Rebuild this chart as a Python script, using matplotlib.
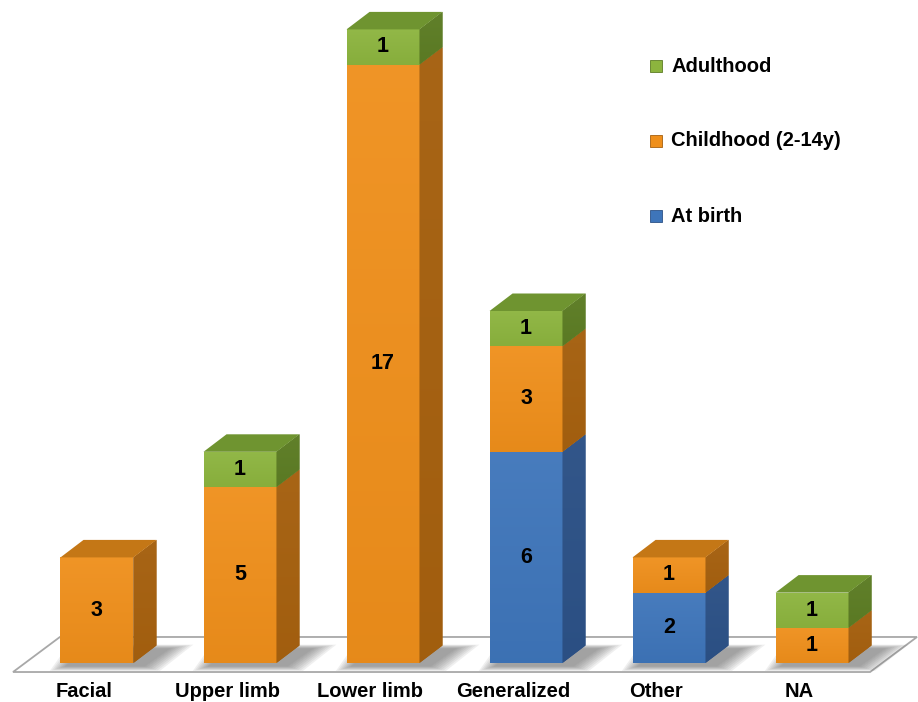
#!/usr/bin/env python3
# -*- coding: utf-8 -*-
"""
Onset by region - 3D-style stacked bar chart
"""

import matplotlib
matplotlib.use('Agg')
import matplotlib.pyplot as plt
import matplotlib.colors as mcolors
from matplotlib.patches import Polygon
import numpy as np

plt.rcParams['font.family'] = ['Liberation Sans', 'DejaVu Sans']

# data
categories = ['Facial', 'Upper limb', 'Lower limb', 'Generalized', 'Other', 'NA']
at_birth = [0, 0, 0, 6, 2, 0]
childhood = [3, 5, 17, 3, 1, 1]
adulthood = [0, 1, 1, 1, 0, 1]

series_names = ['At birth', 'Childhood (2-14y)', 'Adulthood']
series_values = [at_birth, childhood, adulthood]

# front / side / top colors for each series
face_colors = {
    'At birth': ('#3E75BA', '#2C5186', '#35629E'),
    'Childhood (2-14y)': ('#EF8F1B', '#A5600F', '#C47716'),
    'Adulthood': ('#8CB43E', '#5C7C24', '#6F9430'),
}

BAR_W = 0.51
DX, DY = 0.161, 0.497   # depth of the boxes (data units)


def shade(c, f):
    """lighten (f>0) or darken (f<0) a colour"""
    rgb = np.array(mcolors.to_rgb(c))
    if f > 0:
        return rgb + (1 - rgb) * f
    return rgb * (1 + f)


def gradient_fill(ax, patch, c, extent, z, amount):
    # vertical gradient, lighter at the top
    top = shade(c, amount)
    bot = shade(c, -amount * 0.7)
    t = np.linspace(0, 1, 64)[:, None]
    img = (top[None, :] * (1 - t) + bot[None, :] * t)[:, None, :]
    im = ax.imshow(img, extent=extent, aspect='auto', origin='upper',
                   interpolation='bilinear', zorder=z)
    im.set_clip_path(patch)


def draw_box(ax, x, bottom, h, colors, top, z):
    front, side, topc = colors
    bars = ax.bar(x, h, bottom=bottom, width=BAR_W, color=front, linewidth=0, zorder=z)
    xr = x + BAR_W / 2
    xl = x - BAR_W / 2
    gradient_fill(ax, bars[0], front, (xl, xr, bottom, bottom + h), z + 0.1, 0.05)
    side_p = Polygon([(xr, bottom), (xr + DX, bottom + DY),
                      (xr + DX, bottom + h + DY), (xr, bottom + h)],
                     closed=True, facecolor=side, edgecolor='none', zorder=z)
    ax.add_patch(side_p)
    gradient_fill(ax, side_p, side, (xr, xr + DX, bottom, bottom + h + DY), z + 0.1, 0.03)
    if top:
        yt = bottom + h
        ax.add_patch(Polygon([(xl, yt), (xr, yt), (xr + DX, yt + DY), (xl + DX, yt + DY)],
                             closed=True, facecolor=topc, edgecolor='none', zorder=z + 0.2))


fig = plt.figure(figsize=(9.18, 7.02), dpi=100, facecolor='white')
ax = fig.add_axes([0, 0, 1, 1])
ax.axis('off')

n = len(categories)
x = np.arange(n)

# floor
floor = Polygon([(-0.587, -0.256), (n - 1 + 0.406, -0.256),
                 (n - 1 + 0.734, 0.739), (-0.259, 0.739)],
                closed=True, facecolor='white', edgecolor='#A8A8A8', linewidth=1.3, zorder=1)
ax.add_patch(floor)

# soft shadows on the floor
for i in range(n):
    xl = x[i] - BAR_W / 2
    xr = x[i] + BAR_W / 2
    for k in range(8):
        grow = 0.015 * k
        ax.add_patch(Polygon([(xl + 0.03 - grow, -0.10 - grow * 1.2),
                              (xr + 0.08 + grow, -0.10 - grow * 1.2),
                              (xr + DX + 0.10 + grow * 1.5, DY - 0.08 + grow),
                              (xl + DX - grow, DY - 0.08 + grow)],
                             closed=True, facecolor='#505050', alpha=0.085,
                             edgecolor='none', zorder=2))

# bars
for i in range(n):
    top_idx = max(j for j, s in enumerate(series_values) if s[i] > 0)
    bottom = 0
    for j, (name, vals) in enumerate(zip(series_names, series_values)):
        v = vals[i]
        if v <= 0:
            continue
        draw_box(ax, x[i], bottom, v, face_colors[name], j == top_idx, 3 + j)
        ax.text(x[i], bottom + v / 2, str(v), ha='center', va='center',
                fontsize=15.5, fontweight='bold', color='black', zorder=10)
        bottom += v

# category labels
for i, cat in enumerate(categories):
    ax.text(x[i] - 0.09, -0.80, cat, ha='center', va='center',
            fontsize=14.5, fontweight='bold', color='black')

ax.set_xlim(-0.678, 5.741)
ax.set_ylim(-1.108, 18.835)

# legend (top to bottom)
legend_rows = [('Adulthood', 66), ('Childhood (2-14y)', 141), ('At birth', 216)]
for name, py in legend_rows:
    front, side, topc = face_colors[name]
    fy = 1 - py / 702
    ax.add_patch(Polygon([(650 / 918, fy - 6 / 702), (662 / 918, fy - 6 / 702),
                          (662 / 918, fy + 6 / 702), (650 / 918, fy + 6 / 702)],
                         closed=True, facecolor=front, edgecolor=side, linewidth=0.6,
                         transform=fig.transFigure, zorder=10))
    fig.text(671 / 918, fy, name, ha='left', va='center',
             fontsize=14.5, fontweight='bold', color='black')

plt.savefig('out.png', dpi=100, facecolor='white')
plt.close()
